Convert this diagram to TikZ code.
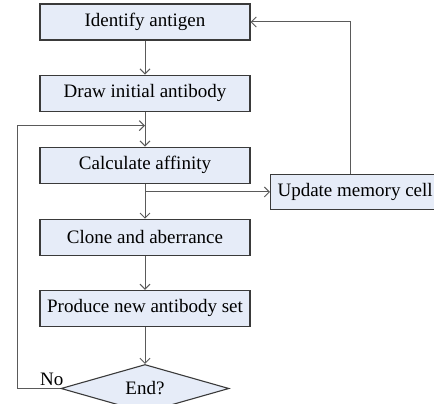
\documentclass[tikz,border=0pt]{standalone}
\usepackage{fontspec}
\setmainfont{Liberation Serif}
\usepackage{tikz}
\usetikzlibrary{arrows.meta, positioning, shapes.geometric, calc}
\definecolor{boxfill}{HTML}{E6ECF8}
\definecolor{boxline}{HTML}{3A3A3A}
\definecolor{arrowgray}{HTML}{5A5A5A}

\begin{document}
\begin{tikzpicture}[
    x=1pt, y=1pt,
    node distance=34pt,
    stepbox/.style={draw=boxline, fill=boxfill, line width=1.1pt, minimum width=210pt, minimum height=36pt, inner sep=0pt, font=\fontsize{19}{22}\selectfont},
    memo/.style={draw=boxline, fill=boxfill, line width=1.1pt, minimum height=35pt, inner sep=7pt, anchor=west, font=\fontsize{19}{22}\selectfont},
    decision/.style={draw=boxline, fill=boxfill, line width=1.1pt, diamond, aspect=3.5, minimum width=168pt, minimum height=48pt, inner sep=0pt, font=\fontsize{19}{22}\selectfont},
    flow/.style={draw=arrowgray, line width=1pt, -{Straight Barb[length=5pt, width=10pt]}},
    >=Stealth
]
    \useasboundingbox (0,0) rectangle (434,404);

    \node[stepbox] (ident) at (145,382) {Identify antigen};
    \node[stepbox, below=of ident] (drawab) {Draw initial antibody};
    \node[stepbox, below=35pt of drawab] (affin) {Calculate affinity};
    \node[stepbox, below=35pt of affin] (clone) {Clone and aberrance};
    \node[stepbox, below=of clone] (produce) {Produce new antibody set};
    \node[decision, below=37pt of produce] (end) {End?};
    \node[memo] (memory) at (270,212) {Update memory cell};

    \coordinate (merge) at ($(drawab.south)!0.4!(affin.north)$);
    \coordinate (split) at (affin.south |- memory.west);

    \draw[flow] (ident) -- (drawab);
    \draw[flow] (drawab) -- (affin);
    \draw[flow] (affin) -- (clone);
    \draw[flow] (split) -- (memory);
    \draw[flow] (clone) -- (produce);
    \draw[flow] (produce) -- (end);
    \draw[flow] (memory.north -| 350,0) |- (ident.east);
    \draw[flow] (end.west) -- node[pos=0.2, above, inner sep=2pt, font=\fontsize{19}{22}\selectfont] {No} (17,0 |- end.west) |- (merge);
\end{tikzpicture}
\end{document}
